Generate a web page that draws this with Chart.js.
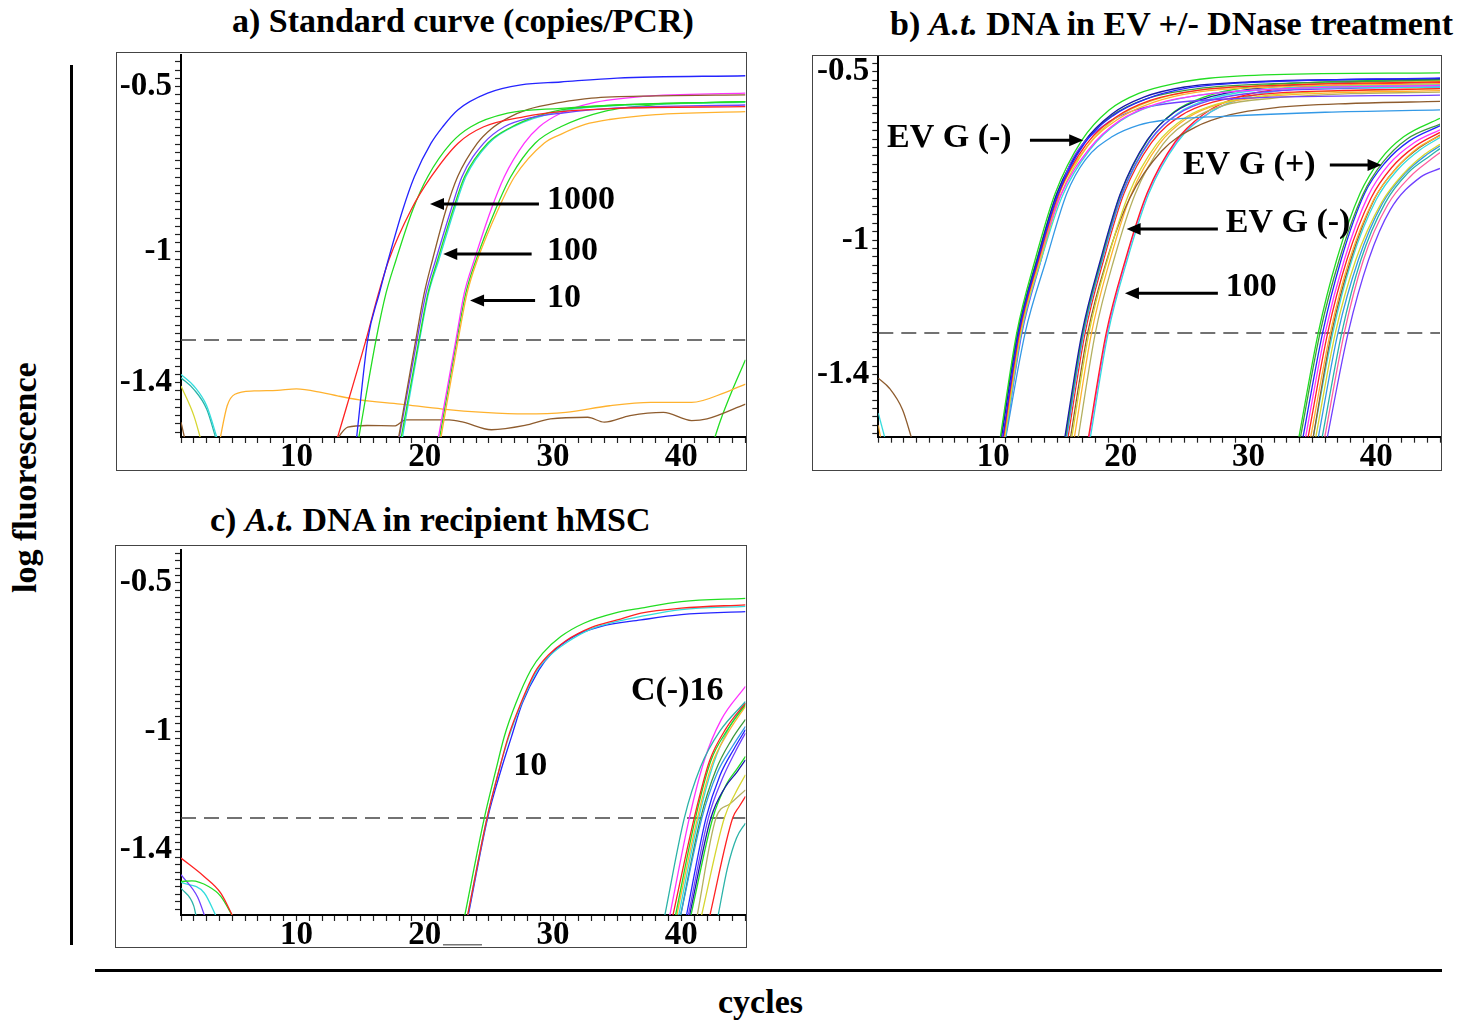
<!DOCTYPE html>
<html>
<head>
<meta charset="utf-8">
<script src="https://cdn.jsdelivr.net/npm/chart.js@4.4.1/dist/chart.umd.min.js"></script>
<style>
  body { margin: 0; background: #fff; width: 1468px; height: 1022px; position: relative; overflow: hidden;
         font-family: "Liberation Serif", "Times New Roman", serif; font-weight: bold; color: #000; }
  .t { position: absolute; font-size: 34px; line-height: 34px; white-space: nowrap; }
  .box { position: absolute; border: 1.5px solid #444; box-sizing: border-box; }
  .bar { position: absolute; background: #000; }
  canvas { position: absolute; }
</style>
</head>
<body>
<div class="t" style="left:232px; top:4px;">a) Standard curve (copies/PCR)</div>
<div class="t" style="left:890px; top:7px;">b) <i>A.t.</i> DNA in EV +/- DNase treatment</div>
<div class="t" style="left:210px; top:503px;">c) <i>A.t.</i> DNA in recipient hMSC</div>
<div class="t" style="left:-90px; top:461px; width:230px; text-align:center; transform:rotate(-90deg);">log fluorescence</div>
<div class="t" style="left:718px; top:985px;">cycles</div>
<div class="bar" style="left:70px; top:65px; width:3px; height:880px;"></div>
<div class="bar" style="left:95px; top:969px; width:1347px; height:3px;"></div>

<div class="box" style="left:116px; top:52px; width:631px; height:419px;"></div>
<div class="box" style="left:812px; top:55px; width:630px; height:416px;"></div>
<div class="box" style="left:115px; top:545px; width:632px; height:403px;"></div>

<canvas id="chartA" width="660" height="450" style="left:100px; top:30px;"></canvas>
<canvas id="chartB" width="660" height="450" style="left:795px; top:30px;"></canvas>
<canvas id="chartC" width="660" height="435" style="left:100px; top:525px;"></canvas>

<script>
// eixo x: ciclos
const cycleMin = 1;
const cycleMax = 45;
const xTickLabels = [10, 20, 30, 40];
const yTickLabels = [-0.5, -1, -1.4];

// limites do eixo y de cada painel (log fluorescence)
const rangeA = [-1.565, -0.404];
const rangeB = [-1.584, -0.455];
const rangeC = [-1.62, -0.389];

// linha de threshold
const thresholdA = -1.27;
const thresholdB = -1.276;
const thresholdC = -1.293;

const BLUE = "#2424ff", RED = "#ff2222", GREEN = "#22dd22", BROWN = "#8e5c2e", PURPLE = "#7040ff",
      MAGENTA = "#ff33ff", ORANGE = "#ffb22e", CYAN = "#33dddd", YELLOW = "#d6d630", LBLUE = "#3399e6",
      DBLUE = "#1a1aaa", OLIVE = "#b4b060", TEAL = "#2bb3a8", PINK = "#ff5fa0", DGREEN = "#3c9a3c";

// a) curva padrao
const curvesA = [
  [BLUE, [[14.65,-1.58],[15.55,-1.27],[16.46,-1.128],[17.15,-1.027],[18.28,-0.875],[19.19,-0.774],[20.49,-0.672],[21.4,-0.622],[22.57,-0.571],[24.9,-0.52],[27.5,-0.495],[30.6,-0.486],[35,-0.474],[45,-0.467]]],
  [RED, [[13.1,-1.58],[15.42,-1.27],[16.4,-1.128],[17.2,-1.027],[18.93,-0.875],[20.5,-0.774],[22.6,-0.672],[24.6,-0.622],[27.8,-0.591],[30.6,-0.576],[35,-0.566],[45,-0.561]]],
  [GREEN, [[14.8,-1.58],[16.2,-1.27],[16.98,-1.128],[17.76,-1.027],[19.06,-0.875],[20.23,-0.774],[22.04,-0.672],[23.6,-0.622],[26.46,-0.581],[30.6,-0.566],[35,-0.556],[45,-0.546]]],
  [BROWN, [[17.9,-1.58],[19.3,-1.27],[19.96,-1.128],[20.6,-1.027],[21.65,-0.875],[22.56,-0.774],[24.1,-0.672],[25.2,-0.628],[26.5,-0.595],[28,-0.57],[30.6,-0.548],[33,-0.535],[38,-0.528],[45,-0.525]]],
  [PURPLE, [[17.95,-1.58],[19.4,-1.27],[20.1,-1.128],[20.85,-1.027],[22.04,-0.875],[22.9,-0.774],[24.6,-0.672],[26.2,-0.622],[28.2,-0.595],[30.6,-0.581],[35,-0.565],[45,-0.556]]],
  [GREEN, [[18.1,-1.58],[19.55,-1.27],[20.25,-1.128],[21.0,-1.027],[22.2,-0.875],[23.1,-0.774],[24.9,-0.672],[26.8,-0.622],[28.6,-0.592],[30.6,-0.571],[35,-0.556],[45,-0.546]]],
  [CYAN, [[18.2,-1.58],[19.6,-1.27],[20.3,-1.128],[21.1,-1.027],[22.3,-0.875],[23.2,-0.774],[25.0,-0.672],[27.0,-0.62],[30.6,-0.575],[35,-0.558],[45,-0.548]]],
  [MAGENTA, [[21.0,-1.58],[22.43,-1.27],[23.08,-1.128],[23.86,-1.027],[25.16,-0.875],[26.2,-0.774],[27.76,-0.672],[28.93,-0.622],[30.6,-0.581],[33,-0.55],[37,-0.53],[45,-0.52]]],
  [ORANGE, [[21.2,-1.58],[22.6,-1.27],[23.3,-1.128],[24.1,-1.027],[25.7,-0.875],[27.0,-0.774],[29.3,-0.672],[30.6,-0.645],[32.5,-0.615],[34.4,-0.6],[38,-0.585],[45,-0.576]]],
  [GREEN, [[21.1,-1.58],[22.5,-1.27],[23.2,-1.128],[24.0,-1.027],[25.5,-0.875],[26.7,-0.774],[28.6,-0.672],[30.6,-0.622],[34,-0.575],[38,-0.555],[45,-0.546]]],
  [ORANGE, [[4.0,-1.58],[4.6,-1.47],[5.2,-1.435],[6.7,-1.425],[8.5,-1.423],[10,-1.419],[12,-1.43],[13.2,-1.44],[14.9,-1.452],[18.1,-1.465],[21.4,-1.48],[24.6,-1.49],[27.8,-1.495],[31,-1.49],[34.4,-1.47],[37.6,-1.46],[40.8,-1.46],[43.4,-1.43],[45,-1.404]]],
  [BROWN, [[13.0,-1.58],[14.0,-1.535],[15.5,-1.53],[17.7,-1.531],[18.5,-1.513],[21.9,-1.513],[23.0,-1.52],[25.2,-1.543],[27.8,-1.53],[29.8,-1.51],[32.7,-1.505],[34,-1.52],[36,-1.5],[38.6,-1.49],[40.8,-1.515],[42,-1.51],[45,-1.465]]],
  [BROWN, [[1,-1.52],[1.35,-1.58]]],
  [CYAN, [[1,-1.375],[2,-1.41],[3,-1.47],[3.9,-1.58]]],
  [TEAL, [[1,-1.385],[2,-1.42],[3,-1.48],[3.8,-1.58]]],
  [YELLOW, [[1,-1.41],[2,-1.5],[2.6,-1.58]]],
  [GREEN, [[42.5,-1.58],[43,-1.52],[44,-1.42],[45,-1.33]]],
];

// b) EV +/- DNase
const curvesB = [
  // EV G (-) primeiro grupo
  [GREEN, [[10.5,-1.6],[11.84,-1.276],[13.28,-1.059],[14.86,-0.861],[16.95,-0.703],[19.06,-0.614],[21.4,-0.564],[24.3,-0.534],[26.9,-0.519],[32,-0.508],[45,-0.503]]],
  [BLUE, [[10.7,-1.6],[12.0,-1.276],[13.5,-1.059],[15.1,-0.861],[17.2,-0.71],[19.4,-0.63],[22,-0.58],[25,-0.55],[30,-0.532],[45,-0.518]]],
  [RED, [[10.75,-1.6],[12.05,-1.276],[13.55,-1.059],[15.15,-0.861],[17.3,-0.715],[19.6,-0.635],[22.3,-0.585],[26,-0.555],[32,-0.54],[45,-0.53]]],
  [ORANGE, [[10.8,-1.6],[12.1,-1.276],[13.6,-1.059],[15.2,-0.861],[17.4,-0.72],[19.8,-0.64],[22.6,-0.59],[26,-0.56],[32,-0.545],[45,-0.535]]],
  [MAGENTA, [[10.7,-1.6],[12.05,-1.276],[13.6,-1.059],[15.25,-0.87],[17.5,-0.73],[19.9,-0.645],[22.8,-0.595],[27,-0.565],[33,-0.55],[45,-0.54]]],
  [YELLOW, [[10.85,-1.6],[12.15,-1.276],[13.7,-1.059],[15.3,-0.865],[17.4,-0.72],[19.7,-0.635],[22.5,-0.585],[26,-0.555],[32,-0.54],[45,-0.528]]],
  [CYAN, [[10.9,-1.6],[12.2,-1.276],[13.75,-1.059],[15.4,-0.87],[17.6,-0.73],[20,-0.645],[23,-0.595],[27,-0.565],[33,-0.55],[45,-0.545]]],
  [PURPLE, [[10.9,-1.6],[12.25,-1.276],[13.75,-1.059],[15.2,-0.86],[16.17,-0.762],[18.53,-0.663],[21.1,-0.614],[23.7,-0.594],[30,-0.578],[45,-0.569]]],
  [LBLUE, [[10.92,-1.6],[12.5,-1.276],[14.15,-1.059],[15.77,-0.861],[17.2,-0.762],[19.3,-0.693],[21.4,-0.658],[23.5,-0.643],[28,-0.632],[36,-0.62],[45,-0.613]]],
  [DBLUE, [[10.6,-1.6],[11.95,-1.276],[13.45,-1.059],[15.0,-0.861],[17.1,-0.71],[19.3,-0.625],[21.8,-0.575],[25,-0.545],[30,-0.53],[45,-0.52]]],
  [DGREEN, [[10.55,-1.6],[11.9,-1.276],[13.4,-1.059],[15,-0.861],[17.1,-0.71],[19.3,-0.63],[22,-0.58],[26,-0.55],[32,-0.535],[45,-0.525]]],
  // EV G (-) segundo grupo e 100
  [DBLUE, [[15.55,-1.6],[16.95,-1.276],[18.4,-1.059],[19.97,-0.861],[22.06,-0.703],[24.2,-0.62],[26.5,-0.58],[30,-0.552],[36,-0.535],[45,-0.525]]],
  [GREEN, [[15.6,-1.6],[17.0,-1.276],[18.45,-1.059],[20.0,-0.861],[22.1,-0.703],[24.2,-0.618],[26.5,-0.575],[30,-0.545],[36,-0.53],[45,-0.522]]],
  [PURPLE, [[15.65,-1.6],[17.05,-1.276],[18.5,-1.059],[20.1,-0.861],[22.25,-0.705],[24.5,-0.625],[27,-0.585],[31,-0.56],[37,-0.55],[45,-0.545]]],
  [CYAN, [[15.7,-1.6],[17.1,-1.276],[18.55,-1.059],[20.15,-0.861],[22.3,-0.705],[24.5,-0.622],[27,-0.58],[31,-0.553],[37,-0.542],[45,-0.535]]],
  [RED, [[15.8,-1.6],[17.2,-1.276],[18.65,-1.059],[20.25,-0.861],[22.4,-0.71],[24.7,-0.63],[27.2,-0.59],[31,-0.567],[37,-0.556],[45,-0.55]]],
  [YELLOW, [[16.1,-1.6],[17.5,-1.276],[18.95,-1.059],[20.6,-0.865],[22.8,-0.715],[25.1,-0.635],[27.6,-0.595],[31,-0.572],[37,-0.557],[45,-0.55]]],
  [BROWN, [[16.0,-1.6],[17.4,-1.276],[18.9,-1.059],[20.7,-0.875],[23.2,-0.735],[25.8,-0.665],[28.5,-0.628],[32,-0.607],[38,-0.594],[45,-0.588]]],
  [ORANGE, [[16.3,-1.6],[17.7,-1.276],[19.15,-1.059],[20.8,-0.865],[23.0,-0.715],[25.3,-0.635],[27.8,-0.595],[31,-0.575],[37,-0.562],[45,-0.556]]],
  [OLIVE, [[16.6,-1.6],[18.0,-1.276],[19.45,-1.059],[21.1,-0.865],[23.3,-0.715],[25.6,-0.64],[28,-0.6],[32,-0.578],[38,-0.565],[45,-0.56]]],
  [CYAN, [[17.55,-1.6],[19.0,-1.276],[20.5,-1.059],[22.2,-0.861],[24.4,-0.71],[26.7,-0.628],[29,-0.585],[32,-0.558],[38,-0.543],[45,-0.538]]],
  [RED, [[17.4,-1.6],[18.85,-1.276],[20.35,-1.059],[22.05,-0.861],[24.25,-0.708],[26.5,-0.625],[28.8,-0.58],[32,-0.553],[38,-0.538],[45,-0.532]]],
  [MAGENTA, [[17.45,-1.6],[18.92,-1.276],[20.4,-1.059],[22.1,-0.861],[24.3,-0.71],[26.6,-0.63],[29,-0.585],[32,-0.558],[38,-0.545],[45,-0.54]]],
  // EV G (+)
  [GREEN, [[33.88,-1.6],[35.46,-1.276],[36.9,-1.059],[38.74,-0.861],[40.3,-0.762],[42.15,-0.693],[45,-0.638]]],
  [DGREEN, [[34.0,-1.6],[35.6,-1.276],[37.1,-1.059],[38.95,-0.865],[40.5,-0.77],[42.4,-0.7],[45,-0.655]]],
  [BLUE, [[34.2,-1.6],[35.8,-1.276],[37.25,-1.059],[39.1,-0.861],[40.7,-0.77],[42.6,-0.705],[45,-0.66]]],
  [MAGENTA, [[34.4,-1.6],[36.0,-1.276],[37.5,-1.059],[39.35,-0.87],[41,-0.775],[43,-0.71],[45,-0.672]]],
  [RED, [[34.6,-1.6],[36.2,-1.276],[37.7,-1.059],[39.6,-0.875],[41.2,-0.785],[43.1,-0.72],[45,-0.68]]],
  [ORANGE, [[34.8,-1.6],[36.4,-1.276],[37.9,-1.059],[39.8,-0.88],[41.5,-0.79],[43.3,-0.725],[45,-0.69]]],
  [BROWN, [[35.0,-1.6],[36.5,-1.276],[38.0,-1.059],[39.9,-0.875],[41.6,-0.785],[43.4,-0.725],[45,-0.688]]],
  [CYAN, [[35.0,-1.6],[36.6,-1.276],[38.1,-1.059],[40.0,-0.88],[41.7,-0.79],[43.5,-0.73],[45,-0.695]]],
  [YELLOW, [[35.2,-1.6],[36.8,-1.276],[38.4,-1.059],[40.4,-0.89],[42.2,-0.8],[43.8,-0.745],[45,-0.715]]],
  [LBLUE, [[35.4,-1.6],[37.0,-1.276],[38.6,-1.059],[40.5,-0.89],[42.3,-0.8],[44,-0.745],[45,-0.72]]],
  [TEAL, [[35.7,-1.6],[37.3,-1.276],[38.8,-1.059],[40.7,-0.89],[42.5,-0.8],[44.2,-0.75],[45,-0.728]]],
  [PINK, [[35.9,-1.6],[37.5,-1.276],[39.0,-1.059],[40.9,-0.895],[42.7,-0.81],[44.3,-0.76],[45,-0.74]]],
  [PURPLE, [[36.1,-1.6],[37.8,-1.276],[39.4,-1.059],[41.1,-0.91],[43.5,-0.812],[45,-0.787]]],
  // baseline
  [BROWN, [[1,-1.41],[1.87,-1.44],[2.9,-1.504],[3.7,-1.6]]],
  [CYAN, [[1,-1.514],[1.6,-1.6]]],
  [ORANGE, [[1,-1.55],[1.25,-1.6]]],
];

// c) hMSC receptoras
const curvesC = [
  [GREEN, [[23.08,-1.63],[24.64,-1.293],[25.55,-1.13],[26.2,-1.018],[27.1,-0.906],[28.28,-0.793],[29.2,-0.737],[30.6,-0.681],[32.4,-0.636],[34.8,-0.602],[36.85,-0.585],[40,-0.563],[45,-0.552]]],
  [RED, [[23.3,-1.63],[24.85,-1.293],[25.8,-1.13],[26.5,-1.02],[27.45,-0.91],[28.6,-0.8],[29.6,-0.745],[31,-0.695],[33,-0.65],[35,-0.625],[36.85,-0.602],[40,-0.585],[45,-0.574]]],
  [CYAN, [[23.3,-1.63],[24.85,-1.293],[25.8,-1.13],[26.55,-1.02],[27.5,-0.91],[28.7,-0.8],[29.7,-0.747],[31.1,-0.7],[33,-0.655],[35,-0.63],[36.85,-0.613],[40,-0.59],[45,-0.579]]],
  [BLUE, [[23.35,-1.63],[24.9,-1.293],[25.95,-1.13],[26.75,-1.02],[27.6,-0.906],[28.9,-0.793],[29.9,-0.737],[31.6,-0.681],[33.7,-0.647],[36.85,-0.625],[40,-0.607],[45,-0.597]]],
  // C(-) 16
  [TEAL, [[38.67,-1.63],[40.23,-1.293],[41.5,-1.12],[43,-1.0],[45,-0.9]]],
  [MAGENTA, [[39.06,-1.63],[40.62,-1.293],[41.8,-1.097],[43.1,-0.962],[45,-0.849]]],
  [RED, [[39.3,-1.63],[41.0,-1.293],[42.2,-1.1],[43.5,-0.99],[45,-0.905]]],
  [GREEN, [[39.5,-1.63],[41.1,-1.293],[42.3,-1.1],[43.6,-0.995],[45,-0.91]]],
  [ORANGE, [[39.6,-1.63],[41.25,-1.293],[42.4,-1.11],[43.7,-1.0],[45,-0.916]]],
  [CYAN, [[39.75,-1.63],[41.35,-1.293],[42.5,-1.11],[43.7,-0.99],[45,-0.905]]],
  [LBLUE, [[39.9,-1.63],[41.6,-1.293],[42.8,-1.14],[44,-1.05],[45,-0.984]]],
  [DGREEN, [[39.9,-1.63],[41.5,-1.293],[42.7,-1.13],[43.9,-1.03],[45,-0.96]]],
  [BLUE, [[40.36,-1.63],[41.92,-1.293],[43,-1.15],[44.1,-1.06],[45,-0.995]]],
  [PURPLE, [[40.5,-1.63],[42.1,-1.293],[43.2,-1.16],[44.2,-1.07],[45,-1.006]]],
  [DBLUE, [[40.6,-1.63],[42.3,-1.293],[43.4,-1.19],[44.3,-1.14],[45,-1.097]]],
  [GREEN, [[40.7,-1.63],[42.45,-1.293],[43.5,-1.18],[44.3,-1.13],[45,-1.085]]],
  [YELLOW, [[41.53,-1.63],[43.35,-1.293],[44.2,-1.21],[45,-1.147]]],
  [OLIVE, [[41.2,-1.63],[42.7,-1.293],[43.8,-1.245],[45,-1.198]]],
  [RED, [[42.18,-1.63],[44.0,-1.293],[44.5,-1.255],[45,-1.22]]],
  [TEAL, [[42.83,-1.63],[43.6,-1.46],[44.3,-1.36],[45,-1.31]]],
  // baseline
  [RED, [[1,-1.428],[2.8,-1.49],[4.1,-1.546],[5.1,-1.63]]],
  [GREEN, [[1,-1.507],[1.85,-1.505],[3.15,-1.524],[4.1,-1.557],[5.1,-1.63]]],
  [PURPLE, [[1,-1.484],[2.3,-1.56],[2.9,-1.63]]],
  [CYAN, [[1,-1.51],[2.8,-1.545],[3.8,-1.63]]],
  [TEAL, [[1,-1.529],[2.0,-1.59],[2.2,-1.63]]],
];

// anotacoes (em coordenadas de dados)
const notesA = [
  { text: "1000", x: 29.53, y: -0.844 },
  { arrow: [28.9, -0.857, 20.41, -0.857] },
  { text: "100", x: 29.53, y: -1.0 },
  { arrow: [28.33, -1.009, 21.44, -1.009] },
  { text: "10", x: 29.53, y: -1.143 },
  { arrow: [28.6, -1.15, 23.53, -1.15] },
];
const notesB = [
  { text: "EV G (-)", x: 1.68, y: -0.697 },
  { arrow: [12.88, -0.703, 17.05, -0.703] },
  { text: "EV G (+)", x: 24.86, y: -0.777 },
  { arrow: [36.37, -0.777, 40.42, -0.777] },
  { text: "EV G (-)", x: 28.22, y: -0.949 },
  { arrow: [27.6, -0.967, 20.45, -0.967] },
  { text: "100", x: 28.22, y: -1.139 },
  { arrow: [27.6, -1.158, 20.32, -1.158] },
];
const notesC = [
  { text: "10", x: 26.9, y: -1.119 },
  { text: "C(-)16", x: 36.07, y: -0.866 },
  { rule: [21.42, -1.72, 24.46, -1.72] },
];

const serif = '"Liberation Serif", "Times New Roman", serif';

function notesPlugin(notes) {
  return {
    id: "notes",
    afterDatasetsDraw(chart) {
      const ctx = chart.ctx, sx = chart.scales.x, sy = chart.scales.y;
      ctx.save();
      ctx.fillStyle = "#000";
      ctx.strokeStyle = "#000";
      ctx.font = "bold 34px " + serif;
      ctx.textBaseline = "middle";
      ctx.textAlign = "left";
      notes.forEach(function (n) {
        if (n.text) {
          ctx.fillText(n.text, sx.getPixelForValue(n.x), sy.getPixelForValue(n.y));
        } else if (n.arrow) {
          const x1 = sx.getPixelForValue(n.arrow[0]), y1 = sy.getPixelForValue(n.arrow[1]);
          const x2 = sx.getPixelForValue(n.arrow[2]), y2 = sy.getPixelForValue(n.arrow[3]);
          const dir = x2 > x1 ? 1 : -1;
          ctx.lineWidth = 3;
          ctx.beginPath();
          ctx.moveTo(x1, y1);
          ctx.lineTo(x2 - dir * 10, y2);
          ctx.stroke();
          ctx.beginPath();
          ctx.moveTo(x2, y2);
          ctx.lineTo(x2 - dir * 14, y2 - 6);
          ctx.lineTo(x2 - dir * 14, y2 + 6);
          ctx.closePath();
          ctx.fill();
        } else if (n.rule) {
          ctx.strokeStyle = "#777";
          ctx.lineWidth = 1.5;
          ctx.beginPath();
          ctx.moveTo(sx.getPixelForValue(n.rule[0]), sy.getPixelForValue(n.rule[1]));
          ctx.lineTo(sx.getPixelForValue(n.rule[2]), sy.getPixelForValue(n.rule[3]));
          ctx.stroke();
          ctx.strokeStyle = "#000";
        }
      });
      ctx.restore();
    }
  };
}

function montarDatasets(curves, threshold) {
  const ds = curves.map(function (c) {
    return {
      data: c[1].map(function (p) { return { x: p[0], y: p[1] }; }),
      borderColor: c[0],
      borderWidth: 1.3,
      pointRadius: 0,
      fill: false,
      cubicInterpolationMode: "monotone",
    };
  });
  ds.push({
    data: [{ x: cycleMin, y: threshold }, { x: cycleMax, y: threshold }],
    borderColor: "#444",
    borderWidth: 1.6,
    borderDash: [15, 8],
    pointRadius: 0,
    fill: false,
  });
  return ds;
}

function ticksY(min, max) {
  const out = [];
  for (let k = Math.ceil(min / 0.025 - 1e-9); k * 0.025 <= max + 1e-9; k++) {
    out.push({ value: Math.round(k * 25) / 1000 });
  }
  return out;
}

function plotarPainel(id, curves, threshold, range, notes, pad, yWidth, xHeight) {
  const tickFont = { family: serif, size: 33, weight: "bold", lineHeight: 1 };
  const config = {
    type: "line",
    data: { datasets: montarDatasets(curves, threshold) },
    options: {
      responsive: false,
      animation: false,
      devicePixelRatio: 1,
      layout: { padding: pad },
      plugins: { legend: { display: false }, tooltip: { enabled: false } },
      scales: {
        x: {
          type: "linear",
          min: cycleMin,
          max: cycleMax,
          afterBuildTicks: function (s) {
            const t = [];
            for (let c = cycleMin; c <= cycleMax; c++) t.push({ value: c });
            s.ticks = t;
          },
          afterFit: function (s) { s.height = xHeight; },
          grid: { drawOnChartArea: false, tickLength: 6, tickColor: "#222", tickWidth: 1.2 },
          border: { color: "#000", width: 2 },
          ticks: {
            autoSkip: false, maxRotation: 0, padding: -2, color: "#000", font: tickFont,
            callback: function (v) { return xTickLabels.includes(v) ? String(v) : ""; }
          }
        },
        y: {
          min: range[0],
          max: range[1],
          afterBuildTicks: function (s) { s.ticks = ticksY(range[0], range[1]); },
          afterFit: function (s) { s.width = yWidth; },
          grid: { drawOnChartArea: false, tickLength: 6, tickColor: "#222", tickWidth: 1.2 },
          border: { color: "#000", width: 2 },
          ticks: {
            autoSkip: false, padding: 3, color: "#000", font: tickFont,
            callback: function (v) {
              const r = Math.round(v * 1000) / 1000;
              return yTickLabels.includes(r) ? String(r) : "";
            }
          }
        }
      }
    },
    plugins: [notesPlugin(notes)]
  };
  return new Chart(document.getElementById(id), config);
}

plotarPainel("chartA", curvesA, thresholdA, rangeA, notesA, { left: 0, top: 25, right: 14.5, bottom: 0 }, 81, 43);
plotarPainel("chartB", curvesB, thresholdB, rangeB, notesB, { left: 0, top: 26.7, right: 15, bottom: 0 }, 83.3, 43.3);
plotarPainel("chartC", curvesC, thresholdC, rangeC, notesC, { left: 0, top: 25, right: 14.5, bottom: 0 }, 81, 45);
</script>
</body>
</html>
